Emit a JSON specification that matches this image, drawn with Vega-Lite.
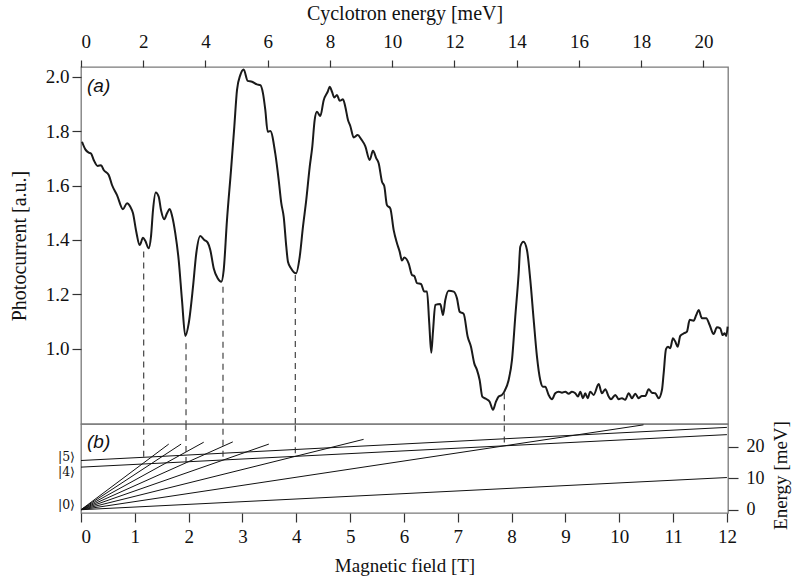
{
  "$schema": "https://vega.github.io/schema/vega-lite/v6.json",
  "padding": {"left": 8, "top": 2, "right": 5, "bottom": 5},
  "bounds": "flush",
  "spacing": 0,
  "config": {
    "font": "Liberation Serif",
    "view": {"stroke": "#7a7a7a", "strokeWidth": 1.3},
    "axis": {"domain": false, "grid": false, "tickColor": "#333", "tickWidth": 1.2, "labelColor": "#111", "labelFont": "Liberation Serif", "labelFontSize": 19, "titleFont": "Liberation Serif", "titleFontSize": 19, "titleFontWeight": "normal", "titleColor": "#111"}
  },
  "datasets": {
    "cyc": [{"meV": 0}, {"meV": 20.79}],
    "curve": [
      {"B":0.019,"P":1.761},{"B":0.080,"P":1.733},{"B":0.143,"P":1.721},{"B":0.186,"P":1.718},{"B":0.236,"P":1.694},{"B":0.310,"P":1.672},{"B":0.372,"P":1.675},{"B":0.422,"P":1.657},{"B":0.515,"P":1.639},{"B":0.576,"P":1.602},{"B":0.669,"P":1.565},{"B":0.780,"P":1.513},{"B":0.855,"P":1.535},{"B":0.916,"P":1.522},{"B":0.966,"P":1.498},{"B":1.027,"P":1.430},{"B":1.090,"P":1.381},{"B":1.152,"P":1.408},{"B":1.194,"P":1.397},{"B":1.258,"P":1.369},{"B":1.300,"P":1.412},{"B":1.338,"P":1.510},{"B":1.388,"P":1.574},{"B":1.443,"P":1.559},{"B":1.486,"P":1.510},{"B":1.547,"P":1.476},{"B":1.598,"P":1.498},{"B":1.648,"P":1.514},{"B":1.696,"P":1.485},{"B":1.752,"P":1.424},{"B":1.815,"P":1.326},{"B":1.876,"P":1.179},{"B":1.938,"P":1.047},{"B":2.001,"P":1.093},{"B":2.081,"P":1.228},{"B":2.142,"P":1.351},{"B":2.216,"P":1.414},{"B":2.291,"P":1.400},{"B":2.354,"P":1.390},{"B":2.402,"P":1.363},{"B":2.465,"P":1.296},{"B":2.539,"P":1.259},{"B":2.606,"P":1.246},{"B":2.651,"P":1.289},{"B":2.712,"P":1.473},{"B":2.787,"P":1.657},{"B":2.848,"P":1.816},{"B":2.898,"P":1.951},{"B":2.959,"P":2.006},{"B":3.022,"P":2.027},{"B":3.097,"P":1.985},{"B":3.177,"P":1.982},{"B":3.270,"P":1.972},{"B":3.331,"P":1.969},{"B":3.381,"P":1.939},{"B":3.424,"P":1.878},{"B":3.468,"P":1.798},{"B":3.517,"P":1.801},{"B":3.609,"P":1.718},{"B":3.673,"P":1.620},{"B":3.721,"P":1.535},{"B":3.766,"P":1.485},{"B":3.814,"P":1.375},{"B":3.845,"P":1.320},{"B":3.901,"P":1.296},{"B":3.994,"P":1.277},{"B":4.063,"P":1.338},{"B":4.124,"P":1.449},{"B":4.185,"P":1.547},{"B":4.249,"P":1.669},{"B":4.297,"P":1.743},{"B":4.341,"P":1.841},{"B":4.384,"P":1.871},{"B":4.446,"P":1.856},{"B":4.509,"P":1.914},{"B":4.583,"P":1.945},{"B":4.620,"P":1.963},{"B":4.663,"P":1.945},{"B":4.706,"P":1.924},{"B":4.756,"P":1.933},{"B":4.806,"P":1.912},{"B":4.867,"P":1.917},{"B":4.910,"P":1.890},{"B":4.960,"P":1.841},{"B":5.003,"P":1.819},{"B":5.066,"P":1.777},{"B":5.140,"P":1.786},{"B":5.207,"P":1.770},{"B":5.281,"P":1.745},{"B":5.363,"P":1.694},{"B":5.424,"P":1.728},{"B":5.486,"P":1.700},{"B":5.530,"P":1.682},{"B":5.592,"P":1.614},{"B":5.634,"P":1.598},{"B":5.684,"P":1.528},{"B":5.746,"P":1.516},{"B":5.809,"P":1.436},{"B":5.870,"P":1.388},{"B":5.920,"P":1.357},{"B":5.963,"P":1.324},{"B":6.006,"P":1.335},{"B":6.088,"P":1.313},{"B":6.149,"P":1.271},{"B":6.192,"P":1.267},{"B":6.242,"P":1.241},{"B":6.316,"P":1.238},{"B":6.377,"P":1.210},{"B":6.428,"P":1.210},{"B":6.470,"P":1.093},{"B":6.507,"P":0.985},{"B":6.539,"P":1.063},{"B":6.582,"P":1.161},{"B":6.675,"P":1.164},{"B":6.725,"P":1.124},{"B":6.768,"P":1.179},{"B":6.831,"P":1.213},{"B":6.924,"P":1.210},{"B":6.985,"P":1.185},{"B":7.035,"P":1.136},{"B":7.109,"P":1.128},{"B":7.184,"P":1.044},{"B":7.245,"P":1.007},{"B":7.306,"P":0.946},{"B":7.356,"P":0.922},{"B":7.406,"P":0.885},{"B":7.455,"P":0.824},{"B":7.529,"P":0.815},{"B":7.592,"P":0.805},{"B":7.654,"P":0.775},{"B":7.709,"P":0.805},{"B":7.759,"P":0.824},{"B":7.821,"P":0.830},{"B":7.864,"P":0.842},{"B":7.945,"P":0.885},{"B":8.007,"P":0.959},{"B":8.068,"P":1.118},{"B":8.131,"P":1.277},{"B":8.161,"P":1.375},{"B":8.220,"P":1.393},{"B":8.285,"P":1.363},{"B":8.347,"P":1.253},{"B":8.410,"P":1.106},{"B":8.471,"P":0.971},{"B":8.532,"P":0.885},{"B":8.583,"P":0.860},{"B":8.625,"P":0.860},{"B":8.688,"P":0.830},{"B":8.750,"P":0.814},{"B":8.811,"P":0.836},{"B":8.874,"P":0.842},{"B":8.936,"P":0.838},{"B":8.997,"P":0.842},{"B":9.060,"P":0.834},{"B":9.121,"P":0.842},{"B":9.183,"P":0.836},{"B":9.233,"P":0.824},{"B":9.276,"P":0.842},{"B":9.326,"P":0.818},{"B":9.368,"P":0.836},{"B":9.413,"P":0.818},{"B":9.461,"P":0.842},{"B":9.524,"P":0.830},{"B":9.617,"P":0.870},{"B":9.678,"P":0.836},{"B":9.740,"P":0.851},{"B":9.803,"P":0.824},{"B":9.846,"P":0.814},{"B":9.926,"P":0.830},{"B":9.989,"P":0.814},{"B":10.050,"P":0.818},{"B":10.111,"P":0.812},{"B":10.175,"P":0.836},{"B":10.236,"P":0.818},{"B":10.297,"P":0.834},{"B":10.360,"P":0.818},{"B":10.421,"P":0.826},{"B":10.483,"P":0.826},{"B":10.546,"P":0.851},{"B":10.607,"P":0.838},{"B":10.669,"P":0.836},{"B":10.732,"P":0.818},{"B":10.793,"P":0.848},{"B":10.825,"P":0.910},{"B":10.868,"P":0.998},{"B":10.905,"P":1.007},{"B":10.947,"P":1.002},{"B":10.997,"P":1.038},{"B":11.040,"P":1.026},{"B":11.085,"P":1.007},{"B":11.133,"P":1.047},{"B":11.207,"P":1.057},{"B":11.258,"P":1.063},{"B":11.308,"P":1.106},{"B":11.382,"P":1.103},{"B":11.430,"P":1.124},{"B":11.475,"P":1.142},{"B":11.536,"P":1.112},{"B":11.616,"P":1.112},{"B":11.679,"P":1.087},{"B":11.753,"P":1.054},{"B":11.815,"P":1.079},{"B":11.876,"P":1.075},{"B":11.921,"P":1.050},{"B":11.958,"P":1.057},{"B":11.988,"P":1.047},{"B":12.013,"P":1.081}
    ],
    "dashes": [
      {"B":1.165,"P":1.357,"E":16.8},{"B":1.951,"P":1.020,"E":14.8},{"B":2.638,"P":1.228,"E":16.8},{"B":3.981,"P":1.271,"E":17.9},{"B":7.864,"P":0.836,"E":21.3}
    ],
    "levels": [
      {"id":"n0","B":0,"E":0},{"id":"n0","B":12,"E":10.2},
      {"id":"n1","B":0,"E":0},{"id":"n1","B":10.45,"E":26.9},
      {"id":"n2","B":0,"E":0},{"id":"n2","B":5.25,"E":22.3},
      {"id":"n3","B":0,"E":0},{"id":"n3","B":3.49,"E":20.8},
      {"id":"n4","B":0,"E":0},{"id":"n4","B":2.82,"E":21.5},
      {"id":"n5","B":0,"E":0},{"id":"n5","B":2.28,"E":21.4},
      {"id":"n6","B":0,"E":0},{"id":"n6","B":1.86,"E":20.8},
      {"id":"n7","B":0,"E":0},{"id":"n7","B":1.63,"E":20.8},
      {"id":"s4","B":0,"E":13.5},{"id":"s4","B":12,"E":23.8},
      {"id":"s5","B":0,"E":15.6},{"id":"s5","B":12,"E":26.1}
    ],
    "labels": [
      {"B":0,"E":16.6,"t":"|5⟩"},{"B":0,"E":11.8,"t":"|4⟩"},{"B":0,"E":1.4,"t":"|0⟩"}
    ]
  },
  "vconcat": [
    {
      "width": 647,
      "height": 357,
      "layer": [
        {
          "data": {"name": "cyc"},
          "mark": {"type": "point", "opacity": 0},
          "encoding": {
            "x": {"field": "meV", "type": "quantitative", "scale": {"domain": [0, 20.79], "nice": false, "zero": false},
              "axis": {"orient": "top", "title": "Cyclotron energy [meV]", "titleFontSize": 20, "values": [0,2,4,6,8,10,12,14,16,18,20], "format": "d", "tickSize": 7, "labelPadding": 9, "titlePadding": 9}}
          }
        },
        {
          "layer": [
            {
              "data": {"name": "curve"},
              "mark": {"type": "line", "color": "#1a1a1a", "strokeWidth": 2, "interpolate": "monotone"},
              "encoding": {
                "x": {"field": "B", "type": "quantitative", "scale": {"domain": [0, 12.02], "nice": false, "zero": false}, "axis": null},
                "y": {"field": "P", "type": "quantitative", "scale": {"domain": [0.723, 2.036], "nice": false, "zero": false},
                  "axis": {"orient": "left", "title": "Photocurrent [a.u.]", "titleFontSize": 20, "values": [1.0,1.2,1.4,1.6,1.8,2.0], "format": ".1f", "tickSize": 9, "labelPadding": 3, "titlePadding": 16}}
              }
            },
            {
              "data": {"name": "dashes"},
              "mark": {"type": "rule", "color": "#333", "strokeWidth": 1.1, "strokeDash": [6, 5]},
              "encoding": {
                "x": {"field": "B", "type": "quantitative"},
                "y": {"field": "P", "type": "quantitative"},
                "y2": {"datum": 0.723}
              }
            },
            {
              "data": {"values": [{}]},
              "mark": {"type": "text", "text": "(a)", "font": "Liberation Sans", "fontStyle": "italic", "fontSize": 19, "align": "left", "baseline": "middle", "dx": 6, "color": "#111"},
              "encoding": {
                "x": {"datum": 0, "type": "quantitative"},
                "y": {"datum": 1.966, "type": "quantitative"}
              }
            }
          ]
        }
      ],
      "resolve": {"scale": {"x": "independent"}, "axis": {"x": "independent"}}
    },
    {
      "width": 647,
      "height": 89,
      "layer": [
        {
          "data": {"name": "levels"},
          "mark": {"type": "line", "color": "#111", "strokeWidth": 1},
          "encoding": {
            "x": {"field": "B", "type": "quantitative", "scale": {"domain": [0, 12.02], "nice": false, "zero": false},
              "axis": {"orient": "bottom", "title": "Magnetic field [T]", "values": [0,1,2,3,4,5,6,7,8,9,10,11,12], "format": "d", "tickSize": 9, "labelPadding": 5, "titlePadding": 10}},
            "y": {"field": "E", "type": "quantitative", "scale": {"domain": [-1.04, 27.17], "nice": false, "zero": false},
              "axis": {"orient": "right", "title": "Energy [meV]", "values": [0, 10, 20], "format": "d", "labelFontSize": 18, "tickSize": 10, "labelPadding": 8, "titlePadding": 7, "titleAngle": 270, "titleBaseline": "top", "titleY": 51}},
            "detail": {"field": "id", "type": "nominal"}
          }
        },
        {
          "data": {"name": "dashes"},
          "mark": {"type": "rule", "color": "#333", "strokeWidth": 1.1, "strokeDash": [6, 5]},
          "encoding": {
            "x": {"field": "B", "type": "quantitative"},
            "y": {"field": "E", "type": "quantitative"},
            "y2": {"datum": 27.17}
          }
        },
        {
          "data": {"name": "labels"},
          "mark": {"type": "text", "font": "DejaVu Serif", "fontSize": 12.5, "align": "right", "baseline": "middle", "dx": -6, "color": "#111"},
          "encoding": {
            "x": {"field": "B", "type": "quantitative"},
            "y": {"field": "E", "type": "quantitative"},
            "text": {"field": "t"}
          }
        },
        {
          "data": {"values": [{}]},
          "mark": {"type": "text", "text": "(b)", "font": "Liberation Sans", "fontStyle": "italic", "fontSize": 19, "align": "left", "baseline": "middle", "dx": 6, "color": "#111"},
          "encoding": {
            "x": {"datum": 0, "type": "quantitative"},
            "y": {"datum": 21.6, "type": "quantitative"}
          }
        }
      ]
    }
  ]
}
